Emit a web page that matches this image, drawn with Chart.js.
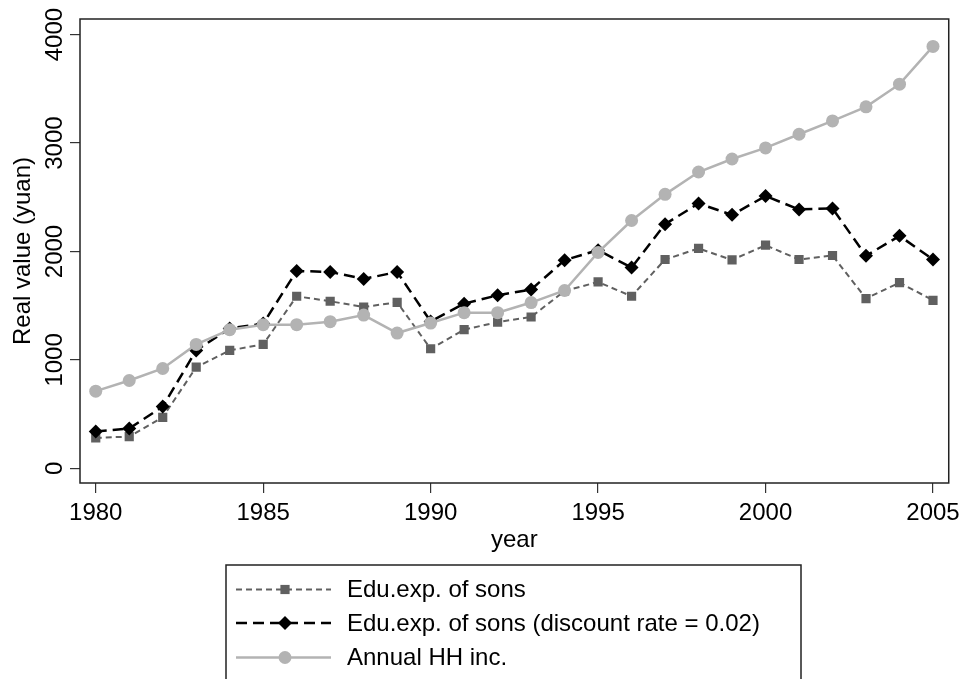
<!DOCTYPE html>
<html>
<head>
<meta charset="utf-8">
<script src="https://cdn.jsdelivr.net/npm/chart.js@4/dist/chart.umd.min.js"></script>
<style>
  body { margin: 0; background: #fff; }
  #wrap { width: 966px; height: 679px; }
</style>
</head>
<body>
<div id="wrap"><canvas id="chart" width="966" height="679"></canvas></div>
<script>
const years = [1980, 1981, 1982, 1983, 1984, 1985, 1986, 1987, 1988, 1989, 1990, 1991, 1992,
  1993, 1994, 1995, 1996, 1997, 1998, 1999, 2000, 2001, 2002, 2003, 2004, 2005];
const sonsExp = [281, 293, 471, 933, 1088, 1143, 1587, 1541, 1488, 1531, 1103, 1279, 1349,
  1396, 1636, 1719, 1587, 1926, 2028, 1922, 2058, 1926, 1963, 1566, 1713, 1550];
const sonsExpDisc = [339, 367, 570, 1088, 1290, 1335, 1821, 1811, 1747, 1811, 1355, 1519, 1596,
  1649, 1920, 2012, 1852, 2252, 2443, 2338, 2511, 2388, 2397, 1960, 2144, 1926];
const hhIncome = [712, 810, 921, 1143, 1279, 1325, 1325, 1353, 1414, 1248, 1340, 1436, 1436,
  1529, 1640, 1991, 2286, 2527, 2733, 2853, 2955, 3081, 3204, 3334, 3543, 3891];
const xTicks = [1980, 1985, 1990, 1995, 2000, 2005];
const yTicks = [0, 1000, 2000, 3000, 4000];
const seriesNames = ["Edu.exp. of sons", "Edu.exp. of sons (discount rate = 0.02)", "Annual HH inc."];

const FONT = "'Liberation Sans', Arial, Helvetica, sans-serif";

const toXY = (vals) => vals.map((v, i) => ({ x: years[i], y: v }));

const series = [
  { name: seriesNames[0], data: sonsExp, color: "#606060", dash: [6, 4], width: 2, style: "rect", radius: 6.5, order: 2 },
  { name: seriesNames[1], data: sonsExpDisc, color: "#000000", dash: [11, 6], width: 2.5, style: "rectRot", radius: 7, order: 1 },
  { name: seriesNames[2], data: hhIncome, color: "#b3b3b3", dash: [], width: 2.5, style: "circle", radius: 6.5, order: 0 },
];

// frame round the plot area
const framePlugin = {
  id: "frame",
  beforeDatasetsDraw(chart) {
    const { ctx, chartArea: a } = chart;
    ctx.save();
    ctx.strokeStyle = "#222";
    ctx.lineWidth = 1.5;
    ctx.strokeRect(a.left, a.top, a.right - a.left, a.bottom - a.top);
    ctx.restore();
  },
};

// vertical y tick labels, like the original
const yLabelPlugin = {
  id: "yLabels",
  afterDraw(chart) {
    const { ctx } = chart;
    const y = chart.scales.y;
    ctx.save();
    ctx.font = "24px " + FONT;
    ctx.fillStyle = "#000";
    ctx.textAlign = "center";
    ctx.textBaseline = "alphabetic";
    yTicks.forEach((v) => {
      ctx.save();
      ctx.translate(62, y.getPixelForValue(v));
      ctx.rotate(-Math.PI / 2);
      ctx.fillText(String(v), 0, 0);
      ctx.restore();
    });
    ctx.restore();
  },
};

// boxed legend below the axis
const legendPlugin = {
  id: "boxLegend",
  afterDraw(chart) {
    const { ctx } = chart;
    ctx.save();
    ctx.strokeStyle = "#222";
    ctx.lineWidth = 1.5;
    ctx.strokeRect(226, 565, 575, 140);
    const rows = [589.5, 623, 657.5];
    series.forEach((s, i) => {
      const ry = rows[i];
      ctx.strokeStyle = s.color;
      ctx.lineWidth = s.width;
      ctx.setLineDash(s.dash);
      ctx.beginPath();
      ctx.moveTo(236, ry);
      ctx.lineTo(331, ry);
      ctx.stroke();
      ctx.setLineDash([]);
      ctx.fillStyle = s.color;
      Chart.helpers.drawPoint(ctx, { pointStyle: s.style, radius: s.radius, rotation: 0, borderWidth: 0 }, 285, ry);
      ctx.fillStyle = "#000";
      ctx.font = "24px " + FONT;
      ctx.textAlign = "left";
      ctx.textBaseline = "middle";
      ctx.fillText(s.name, 347, ry + 1);
    });
    ctx.restore();
  },
};

new Chart(document.getElementById("chart"), {
  type: "line",
  data: {
    datasets: series.map((s) => ({
      label: s.name,
      data: toXY(s.data),
      borderColor: s.color,
      borderWidth: s.width,
      borderDash: s.dash,
      backgroundColor: s.color,
      pointStyle: s.style,
      pointRadius: s.radius,
      pointBorderWidth: 0,
      pointBackgroundColor: s.color,
      tension: 0,
      fill: false,
      order: s.order,
    })),
  },
  options: {
    responsive: false,
    animation: false,
    layout: { padding: { left: 0, right: 17, top: 19, bottom: 0 } },
    plugins: { legend: { display: false }, tooltip: { enabled: false } },
    scales: {
      x: {
        type: "linear",
        position: "bottom",
        min: 1979.53,
        max: 2005.47,
        afterBuildTicks: (s) => { s.ticks = xTicks.map((v) => ({ value: v })); },
        afterFit: (s) => { s.height = 196; },
        grid: { drawOnChartArea: false, drawTicks: true, tickLength: 10, color: "#333", lineWidth: 1.2 },
        border: { display: false },
        ticks: {
          font: { size: 24, family: FONT },
          color: "#000",
          padding: 6,
          maxRotation: 0,
          autoSkip: false,
          callback: (v) => String(v),
        },
        title: {
          display: true,
          text: "year",
          color: "#000",
          font: { size: 24, family: FONT },
          padding: { top: 0, bottom: 124 },
        },
      },
      y: {
        min: -135,
        max: 4144,
        afterBuildTicks: (s) => { s.ticks = yTicks.map((v) => ({ value: v })); },
        afterFit: (s) => { s.width = 80; },
        grid: { drawOnChartArea: false, drawTicks: true, tickLength: 10, color: "#333", lineWidth: 1.2 },
        border: { display: false },
        ticks: { display: false },
        title: {
          display: true,
          text: "Real value (yuan)",
          color: "#000",
          font: { size: 24, family: FONT },
          padding: { top: 9, bottom: 0 },
        },
      },
    },
  },
  plugins: [framePlugin, yLabelPlugin, legendPlugin],
});
</script>
</body>
</html>
